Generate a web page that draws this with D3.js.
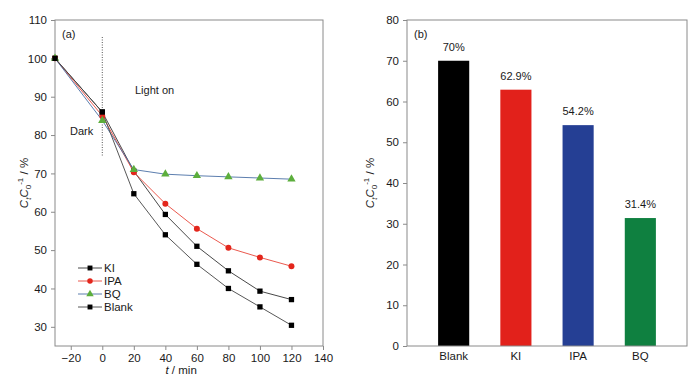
<!DOCTYPE html>
<html>
<head>
  <meta charset="utf-8">
  <title>Degradation curves</title>
  <script src="https://d3js.org/d3.v7.min.js"></script>
  <style>
    body { margin: 0; background: #fff; }
    text { font-family: "Liberation Sans", Arial, sans-serif; }
  </style>
</head>
<body>
  <div id="chart"></div>

  <script>
    // time points (min)
    var times = [-30, 0, 20, 40, 60, 80, 100, 120];
    var kiValues = [100, 86, 70.6, 59.3, 51.0, 44.6, 39.3, 37.1];
    var ipaValues = [100, 85, 70.3, 62.1, 55.6, 50.6, 48.1, 45.8];
    var bqValues = [100, 83.8, 71.0, 69.8, 69.4, 69.1, 68.8, 68.5];
    var blankValues = [100, 86, 64.7, 54.0, 46.3, 40.0, 35.2, 30.4];
    var seriesNames = ["KI", "IPA", "BQ", "Blank"];

    // bar panel
    var barCategories = ["Blank", "KI", "IPA", "BQ"];
    var barValues = [70, 62.9, 54.2, 31.4];
    var barLabels = ["70%", "62.9%", "54.2%", "31.4%"];

    var xTicks = [-20, 0, 20, 40, 60, 80, 100, 120, 140];
    var yTicksA = [30, 40, 50, 60, 70, 80, 90, 100, 110];
    var yTicksB = [0, 10, 20, 30, 40, 50, 60, 70, 80];

    var width = 700, height = 381;
    var svg = d3.select("#chart").append("svg")
      .attr("width", width)
      .attr("height", height);

    var frameColor = "#8a8a8a";
    var textColor = "#1a1a1a";

    function styleAxis(g) {
      g.select(".domain").remove();
      g.selectAll(".tick line").attr("stroke", frameColor);
      g.selectAll(".tick text").attr("fill", textColor).style("font-size", "11.5px");
    }

    function yLabel(x, y) {
      var t = svg.append("text")
        .attr("transform", "translate(" + x + "," + y + ") rotate(-90)")
        .attr("text-anchor", "middle")
        .attr("fill", textColor)
        .style("font-size", "11.5px");
      t.append("tspan").style("font-style", "italic").text("C");
      t.append("tspan").attr("dy", 3).style("font-size", "8px").style("font-style", "italic").text("t");
      t.append("tspan").attr("dy", -3).style("font-style", "italic").text("C");
      t.append("tspan").attr("dy", 3).style("font-size", "8px").text("0");
      t.append("tspan").attr("dy", -8).style("font-size", "8px").text("-1");
      t.append("tspan").attr("dy", 5).text(" / %");
    }

    // ---------- panel (a) ----------
    var xA = d3.scaleLinear().domain([-30, 140]).range([55, 323]);
    var yA = d3.scaleLinear().domain([25, 110]).range([346, 20]);

    var gxA = svg.append("g")
      .attr("transform", "translate(0,346)")
      .call(d3.axisBottom(xA).tickValues(xTicks).tickFormat(d3.format("d")).tickSize(4).tickPadding(4));
    styleAxis(gxA);

    var gyA = svg.append("g")
      .attr("transform", "translate(55,0)")
      .call(d3.axisLeft(yA).tickValues(yTicksA).tickSize(4).tickPadding(4));
    styleAxis(gyA);

    svg.append("rect")
      .attr("x", 55).attr("y", 20)
      .attr("width", 323 - 55).attr("height", 346 - 20)
      .attr("fill", "none").attr("stroke", frameColor).attr("stroke-width", 1);

    // dark / light divider
    svg.append("line")
      .attr("x1", xA(0)).attr("x2", xA(0))
      .attr("y1", 37).attr("y2", 157)
      .attr("stroke", "#555").attr("stroke-dasharray", "1,1.5");

    svg.append("text").attr("x", 62).attr("y", 38).attr("fill", textColor)
      .style("font-size", "11px").text("(a)");
    svg.append("text").attr("x", 135).attr("y", 94).attr("fill", textColor)
      .style("font-size", "11px").text("Light on");
    svg.append("text").attr("x", 70).attr("y", 135).attr("fill", textColor)
      .style("font-size", "11px").text("Dark");

    svg.append("text")
      .attr("x", xA(50)).attr("y", 374)
      .attr("text-anchor", "middle").attr("fill", textColor)
      .style("font-size", "11.5px")
      .html('<tspan font-style="italic">t</tspan> / min');
    yLabel(28, 183);

    var series = [
      { name: "KI", values: kiValues, line: "#333", fill: "#000", symbol: d3.symbolSquare },
      { name: "IPA", values: ipaValues, line: "#e8463a", fill: "#e3261c", symbol: d3.symbolCircle },
      { name: "BQ", values: bqValues, line: "#4a6fa5", fill: "#5cae3c", symbol: d3.symbolTriangle },
      { name: "Blank", values: blankValues, line: "#444", fill: "#000", symbol: d3.symbolSquare }
    ];

    var line = d3.line()
      .x(function(d, i) { return xA(times[i]); })
      .y(function(d) { return yA(d); });

    series.forEach(function(s) {
      svg.append("path")
        .datum(s.values)
        .attr("d", line)
        .attr("fill", "none")
        .attr("stroke", s.line)
        .attr("stroke-width", 0.9);
    });

    series.forEach(function(s) {
      svg.selectAll(null)
        .data(s.values)
        .enter()
        .append("path")
        .attr("d", d3.symbol().type(s.symbol).size(s.symbol === d3.symbolTriangle ? 30 : 28))
        .attr("transform", function(d, i) { return "translate(" + xA(times[i]) + "," + yA(d) + ")"; })
        .attr("fill", s.fill);
    });

    // legend
    var legend = svg.append("g").attr("transform", "translate(78,268)");
    series.forEach(function(s, i) {
      var g = legend.append("g").attr("transform", "translate(0," + (i * 13) + ")");
      g.append("line").attr("x1", 0).attr("x2", 24).attr("y1", 0).attr("y2", 0)
        .attr("stroke", s.line).attr("stroke-width", 0.9);
      g.append("path")
        .attr("d", d3.symbol().type(s.symbol).size(24))
        .attr("transform", "translate(12,0)")
        .attr("fill", s.fill);
      g.append("text").attr("x", 26).attr("y", 4).attr("fill", textColor)
        .style("font-size", "11.5px").text(s.name);
    });

    // ---------- panel (b) ----------
    var xB = d3.scaleBand().domain(barCategories).range([407, 687]).padding(0.5);
    var yB = d3.scaleLinear().domain([0, 80]).range([346, 20]);
    var barColors = ["#000000", "#e2211b", "#253f94", "#0f8040"];

    svg.selectAll(".bar")
      .data(barValues)
      .enter()
      .append("rect")
      .attr("class", "bar")
      .attr("x", function(d, i) { return xB(barCategories[i]); })
      .attr("y", function(d) { return yB(d); })
      .attr("width", xB.bandwidth())
      .attr("height", function(d) { return 346 - yB(d); })
      .attr("fill", function(d, i) { return barColors[i]; });

    svg.selectAll(".bar-label")
      .data(barValues)
      .enter()
      .append("text")
      .attr("class", "bar-label")
      .attr("x", function(d, i) { return xB(barCategories[i]) + xB.bandwidth() / 2; })
      .attr("y", function(d) { return yB(d) - 10; })
      .attr("text-anchor", "middle")
      .attr("fill", textColor)
      .style("font-size", "11px")
      .text(function(d, i) { return barLabels[i]; });

    var gxB = svg.append("g")
      .attr("transform", "translate(0,346)")
      .call(d3.axisBottom(xB).tickSize(0).tickPadding(6));
    styleAxis(gxB);

    var gyB = svg.append("g")
      .attr("transform", "translate(407,0)")
      .call(d3.axisLeft(yB).tickValues(yTicksB).tickSize(4).tickPadding(4));
    styleAxis(gyB);

    svg.append("rect")
      .attr("x", 407).attr("y", 20)
      .attr("width", 687 - 407).attr("height", 346 - 20)
      .attr("fill", "none").attr("stroke", frameColor).attr("stroke-width", 1);

    svg.append("text").attr("x", 414).attr("y", 38).attr("fill", textColor)
      .style("font-size", "11px").text("(b)");

    yLabel(374, 183);
  </script>
</body>
</html>
